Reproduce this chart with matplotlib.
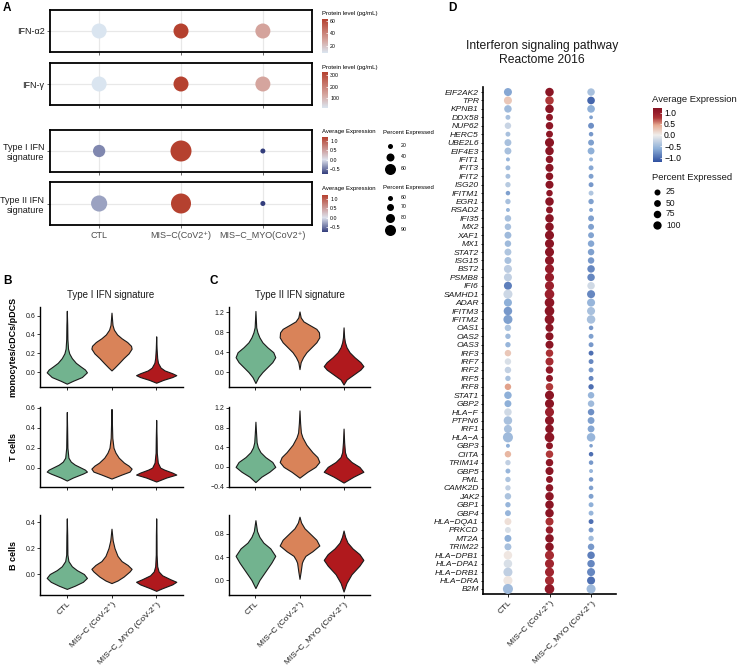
import numpy as np
import matplotlib.pyplot as plt
from matplotlib.colors import LinearSegmentedColormap, Normalize
from matplotlib.cm import ScalarMappable

plt.rcParams['font.family'] = ['Liberation Sans', 'DejaVu Sans']

W, H = 740, 669
fig = plt.figure(figsize=(W / 100, H / 100), dpi=100)


def add_ax(x0, y0, x1, y1):
    # axes from pixel box (top-left origin)
    return fig.add_axes([x0 / W, 1 - y1 / H, (x1 - x0) / W, (y1 - y0) / H])


def ftext(x, y, s, **kw):
    fig.text(x / W, 1 - y / H, s, **kw)


def pt2(d_px):
    # marker diameter in pixels -> scatter size in points^2
    return (np.asarray(d_px, float) * 0.72) ** 2


# ---------------- data ----------------
groups_a = ['CTL', 'MIS\u2212C(CoV2\u207a)', 'MIS\u2212C_MYO(CoV2\u207a)']
ifna2_level = [9, 63, 30]
ifng_level = [10, 330, 130]
type1_avg = [-0.42, 1.2, -0.77]
type1_pct = [40, 70, 15]
type2_avg = [-0.3, 1.2, -0.77]
type2_pct = [85, 93, 62]

violin_groups = ['CTL', 'MIS\u2212C (CoV-2\u207a)', 'MIS\u2212C_MYO (CoV-2\u207a)']

# violin outlines: y values and relative density per group
b_mono_y = [[-0.12, -0.09, -0.05, 0.0, 0.03, 0.06, 0.1, 0.15, 0.2, 0.25, 0.35, 0.5, 0.65],
            [0.02, 0.05, 0.1, 0.15, 0.2, 0.25, 0.28, 0.32, 0.36, 0.4, 0.45, 0.5, 0.55, 0.63],
            [-0.11, -0.08, -0.05, -0.03, -0.01, 0.02, 0.05, 0.1, 0.15, 0.25, 0.38]]
b_mono_w = [[0, 0.3, 0.75, 1.0, 0.9, 0.7, 0.45, 0.25, 0.12, 0.06, 0.03, 0.02, 0],
            [0, 0.15, 0.38, 0.6, 0.85, 1.0, 0.97, 0.78, 0.5, 0.28, 0.12, 0.05, 0.03, 0],
            [0, 0.35, 0.8, 1.0, 0.8, 0.42, 0.22, 0.09, 0.05, 0.02, 0]]
b_t_y = [[-0.13, -0.1, -0.06, -0.04, -0.02, 0.0, 0.03, 0.06, 0.1, 0.2, 0.4, 0.56],
         [-0.11, -0.07, -0.04, -0.01, 0.02, 0.05, 0.1, 0.15, 0.2, 0.3, 0.45, 0.59],
         [-0.14, -0.1, -0.07, -0.05, -0.02, 0.0, 0.05, 0.15, 0.3, 0.48]]
b_t_w = [[0, 0.3, 0.8, 1.0, 0.9, 0.7, 0.4, 0.2, 0.08, 0.03, 0.015, 0],
         [0, 0.5, 0.9, 1.0, 0.85, 0.62, 0.36, 0.2, 0.1, 0.04, 0.02, 0],
         [0, 0.5, 1.0, 0.8, 0.4, 0.2, 0.08, 0.03, 0.02, 0]]
b_b_y = [[-0.115, -0.09, -0.06, -0.03, 0.0, 0.03, 0.06, 0.1, 0.15, 0.3, 0.43],
         [-0.07, -0.05, -0.02, 0.02, 0.04, 0.07, 0.1, 0.14, 0.2, 0.26, 0.35],
         [-0.13, -0.11, -0.08, -0.06, -0.04, -0.01, 0.02, 0.06, 0.15, 0.3, 0.43]]
b_b_w = [[0, 0.4, 0.8, 1.0, 0.85, 0.5, 0.25, 0.08, 0.03, 0.02, 0],
         [0, 0.3, 0.6, 0.9, 1.0, 0.8, 0.5, 0.3, 0.15, 0.06, 0],
         [0, 0.3, 0.8, 1.0, 0.7, 0.3, 0.12, 0.05, 0.02, 0.015, 0]]
c_mono_y = [[-0.22, -0.1, 0.0, 0.1, 0.2, 0.3, 0.4, 0.5, 0.6, 0.7, 0.8, 0.9, 1.23],
            [0.06, 0.2, 0.3, 0.4, 0.5, 0.6, 0.7, 0.8, 0.87, 0.95, 1.02, 1.1, 1.22],
            [-0.25, -0.15, -0.05, 0.05, 0.12, 0.2, 0.3, 0.4, 0.5, 0.6, 0.7, 0.9]]
c_mono_w = [[0, 0.15, 0.35, 0.6, 0.85, 1.0, 0.9, 0.6, 0.35, 0.2, 0.1, 0.04, 0],
            [0, 0.06, 0.18, 0.35, 0.6, 0.85, 1.0, 0.98, 0.85, 0.5, 0.2, 0.06, 0],
            [0, 0.15, 0.5, 0.85, 1.0, 0.85, 0.55, 0.3, 0.15, 0.07, 0.03, 0]]
c_t_y = [[-0.31, -0.2, -0.1, 0.0, 0.1, 0.2, 0.3, 0.4, 0.5, 0.7, 0.92],
         [-0.22, -0.1, 0.0, 0.1, 0.2, 0.3, 0.45, 0.6, 0.7, 0.9, 1.15],
         [-0.32, -0.2, -0.1, 0.0, 0.1, 0.2, 0.3, 0.5, 0.78]]
c_t_w = [[0, 0.3, 0.7, 1.0, 0.85, 0.5, 0.25, 0.12, 0.06, 0.03, 0],
         [0, 0.4, 0.8, 1.0, 0.9, 0.65, 0.35, 0.15, 0.07, 0.03, 0],
         [0, 0.5, 1.0, 0.8, 0.4, 0.15, 0.07, 0.03, 0]]
c_b_y = [[-0.14, 0.0, 0.15, 0.3, 0.42, 0.55, 0.65, 0.75, 0.85, 1.04],
         [0.02, 0.15, 0.3, 0.35, 0.42, 0.5, 0.6, 0.7, 0.8, 0.9, 1.0, 1.1],
         [-0.2, -0.05, 0.1, 0.25, 0.35, 0.45, 0.55, 0.65, 0.75, 0.86]]
c_b_w = [[0, 0.2, 0.5, 0.8, 1.0, 0.75, 0.4, 0.2, 0.08, 0],
         [0, 0.06, 0.12, 0.18, 0.3, 0.65, 1.0, 0.85, 0.55, 0.25, 0.08, 0],
         [0, 0.15, 0.4, 0.8, 1.0, 0.8, 0.45, 0.2, 0.08, 0]]

genes = ['EIF2AK2', 'TPR', 'KPNB1', 'DDX58', 'NUP62', 'HERC5', 'UBE2L6', 'EIF4E3',
         'IFIT1', 'IFIT3', 'IFIT2', 'ISG20', 'IFITM1', 'EGR1', 'RSAD2', 'IFI35', 'MX2',
         'XAF1', 'MX1', 'STAT2', 'ISG15', 'BST2', 'PSMB8', 'IFI6', 'SAMHD1', 'ADAR',
         'IFITM3', 'IFITM2', 'OAS1', 'OAS2', 'OAS3', 'IRF3', 'IRF7', 'IRF2', 'IRF5',
         'IRF8', 'STAT1', 'GBP2', 'HLA\u2212F', 'PTPN6', 'IRF1', 'HLA\u2212A', 'GBP3',
         'CIITA', 'TRIM14', 'GBP5', 'PML', 'CAMK2D', 'JAK2', 'GBP1', 'GBP4',
         'HLA\u2212DQA1', 'PRKCD', 'MT2A', 'TRIM22', 'HLA\u2212DPB1', 'HLA\u2212DPA1',
         'HLA\u2212DRB1', 'HLA\u2212DRA', 'B2M']
ctl_avg = [-0.65, 0.25, -0.5, -0.45, -0.25, -0.45, -0.45, -0.45, -0.55, -0.5,
           -0.45, -0.35, -0.7, -0.45, -0.55, -0.45, -0.45, -0.5, -0.5, -0.4,
           -0.45, -0.32, -0.3, -0.9, -0.22, -0.6, -0.75, -0.7, -0.4, -0.5,
           -0.55, 0.25, -0.15, -0.28, -0.45, 0.45, -0.6, -0.6, -0.2, -0.45,
           -0.45, -0.5, -0.6, 0.35, -0.3, -0.55, -0.42, -0.3, -0.42, -0.55,
           -0.55, 0.1, -0.15, -0.6, -0.45, 0.05, -0.15, -0.3, 0.05, -0.5]
ctl_pct = [67, 67, 60, 27, 47, 27, 53, 53, 15, 27,
           27, 33, 22, 33, 15, 47, 47, 53, 47, 53,
           53, 67, 67, 67, 80, 67, 73, 80, 47, 33,
           33, 47, 47, 47, 33, 47, 60, 53, 60, 73,
           67, 93, 15, 47, 33, 27, 33, 33, 47, 33,
           40, 53, 40, 53, 53, 73, 73, 80, 80, 93]
misc_avg = [1.15, 0.75, 1.15, 1.1, 1.1, 1.1, 1.15, 1.15, 1.1, 1.15,
            1.15, 1.15, 1.1, 1.15, 1.1, 1.15, 1.15, 1.15, 1.15, 1.15,
            1.1, 1.0, 1.0, 0.95, 0.95, 1.1, 1.15, 1.1, 1.15, 1.15,
            1.15, 0.8, 0.85, 1.05, 1.1, 0.75, 1.15, 1.15, 0.95, 1.1,
            1.15, 1.1, 1.1, 0.75, 1.1, 1.15, 1.1, 1.1, 1.1, 1.15,
            1.15, 0.8, 1.0, 1.15, 1.15, 0.85, 0.9, 0.9, 0.85, 1.05]
misc_pct = [73, 73, 73, 53, 60, 53, 80, 73, 60, 67,
            60, 67, 47, 73, 53, 73, 73, 80, 80, 80,
            80, 80, 80, 80, 87, 87, 87, 87, 67, 67,
            67, 60, 67, 60, 53, 60, 80, 80, 80, 80,
            73, 87, 53, 60, 60, 67, 53, 60, 73, 73,
            73, 67, 60, 73, 73, 80, 80, 80, 80, 87]
myo_avg = [-0.45, -1.05, -0.6, -0.7, -0.8, -0.75, -0.7, -0.6, -0.55, -0.65,
           -0.7, -0.75, -0.4, -0.7, -0.65, -0.7, -0.7, -0.68, -0.65, -0.7,
           -0.75, -0.85, -0.85, -0.2, -0.85, -0.55, -0.45, -0.45, -0.75, -0.7,
           -0.75, -1.0, -0.85, -0.75, -0.85, -1.0, -0.55, -0.5, -0.8, -0.7,
           -0.65, -0.55, -0.7, -1.0, -0.75, -0.55, -0.75, -0.7, -0.7, -0.6,
           -0.55, -1.0, -0.75, -0.5, -0.75, -0.9, -0.85, -0.85, -1.0, -0.5]
myo_pct = [60, 62, 62, 12, 40, 22, 40, 52, 15, 27,
           27, 27, 27, 33, 15, 40, 40, 40, 47, 47,
           47, 60, 60, 60, 67, 67, 67, 73, 22, 27,
           27, 27, 27, 27, 27, 33, 47, 47, 47, 52,
           52, 73, 10, 22, 22, 15, 22, 22, 27, 27,
           27, 27, 27, 33, 47, 60, 60, 67, 67, 80]

# ---------------- colour scales ----------------
cmap_prot = LinearSegmentedColormap.from_list(
    'prot', [(0, '#dae5f0'), (0.35, '#d6a9a3'), (1, '#b5412f')])
cmap_avg = LinearSegmentedColormap.from_list(
    'avg', [(0, '#333d7c'), (0.39, '#dde1ec'), (1, '#b5412f')])
cmap_d = LinearSegmentedColormap.from_list(
    'd', [(0, '#2e4f9f'), (0.25, '#8fb0d8'), (0.5, '#f0eeec'),
          (0.68, '#e6ab92'), (0.82, '#ad3436'), (0.92, '#951b2a'), (1, '#861322')])
violin_colors = ['#72b38f', '#d98359', '#b0191d']

# ---------------- panel A ----------------
def dot_row(y0, y1, label, vals, diam, cmap, norm, show_x):
    ax = add_ax(50, y0, 312, y1)
    x = np.arange(1, 4)
    ax.scatter(x, np.zeros(3), s=pt2(diam), c=vals, cmap=cmap, norm=norm,
               linewidths=0, zorder=3)
    ax.set_xlim(0.4, 3.6)
    ax.set_ylim(-0.6, 0.6)
    ax.set_yticks([0])
    ax.set_yticklabels([label], fontsize=6.5, color='#1a1a1a')
    ax.set_xticks(x)
    if show_x:
        ax.set_xticklabels(groups_a, fontsize=6.5, color='#4d4d4d')
    else:
        ax.set_xticklabels([])
    ax.grid(color='#e8e8e8', lw=0.9)
    ax.set_axisbelow(True)
    for sp in ax.spines.values():
        sp.set_linewidth(1.3)
    ax.tick_params(length=2, width=0.6, color='#555555', pad=2)
    return ax


def colorbar_key(x0, y0, x1, y1, cmap, norm, ticks, labels, fs):
    cax = add_ax(x0, y0, x1, y1)
    cb = fig.colorbar(ScalarMappable(norm=norm, cmap=cmap), cax=cax, ticks=ticks)
    cb.outline.set_visible(False)
    cb.ax.set_yticklabels(labels)
    cax.tick_params(labelsize=fs, length=(x1 - x0) * 0.2, direction='in',
                    color='white', width=0.5, pad=1.5)
    return cb


def size_scale(p, p0, p1, d0, d1):
    return d0 + (np.asarray(p, float) - p0) * (d1 - d0) / (p1 - p0)


norm_a1 = Normalize(9, 63)
norm_a2 = Normalize(10, 330)
norm_avg = Normalize(-0.77, 1.2)
dot_row(10, 52, 'IFN-\u03b12', ifna2_level, [15] * 3, cmap_prot, norm_a1, False)
dot_row(63, 105, 'IFN-\u03b3', ifng_level, [15] * 3, cmap_prot, norm_a2, False)
dot_row(130, 172, 'Type I IFN\nsignature', type1_avg,
        size_scale(type1_pct, 15, 70, 5, 21), cmap_avg, norm_avg, False)
dot_row(182, 225, 'Type II IFN\nsignature', type2_avg,
        size_scale(type2_pct, 62, 93, 5, 20), cmap_avg, norm_avg, True)

m = '\u2212'
ftext(322, 13, 'Protein level (pg/mL)', fontsize=4.3, va='center')
colorbar_key(322, 19, 328, 53, cmap_prot, norm_a1, [20, 40, 60], ['20', '40', '60'], 3.8)
ftext(322, 67, 'Protein level (pg/mL)', fontsize=4.3, va='center')
colorbar_key(322, 72, 328, 108, cmap_prot, norm_a2, [100, 200, 300], ['100', '200', '300'], 3.8)
for ty in (131, 189):
    ftext(322, ty, 'Average Expression', fontsize=4.3, va='center')
    colorbar_key(322, ty + 6, 328, ty + 43, cmap_avg, norm_avg, [-0.5, 0, 0.5, 1.0],
                 [m + '0.5', '0.0', '0.5', '1.0'], 3.8)

# size keys for panel A
key_ax = add_ax(380, 125, 440, 240)
key_ax.set_xlim(380, 440)
key_ax.set_ylim(240, 125)
key_ax.axis('off')
key_ax.text(383, 133, 'Percent Expressed', fontsize=4.3, va='center')
for yy, d, lab in zip([146, 157, 169], [5, 8, 11], ['20', '40', '60']):
    key_ax.scatter([390], [yy], s=pt2(d), c='black', lw=0)
    key_ax.text(401, yy, lab, fontsize=3.8, va='center')
key_ax.text(383, 188, 'Percent Expressed', fontsize=4.3, va='center')
for yy, d, lab in zip([198, 207, 218, 230], [5, 7, 9, 11], ['60', '70', '80', '90']):
    key_ax.scatter([390], [yy], s=pt2(d), c='black', lw=0)
    key_ax.text(401, yy, lab, fontsize=3.8, va='center')

# ---------------- panels B and C ----------------
def violin_panel(box, ys, ws, ylim, yticks, show_x):
    ax = add_ax(*box)
    stats = []
    for yc, wv in zip(ys, ws):
        yc = np.asarray(yc, float)
        wv = np.asarray(wv, float)
        peak = yc[np.argmax(wv)]
        stats.append(dict(coords=yc, vals=wv, mean=peak, median=peak,
                          min=yc[0], max=yc[-1]))
    parts = ax.violin(stats, positions=[1, 2, 3], widths=0.9, showmeans=False,
                      showextrema=False, showmedians=False)
    for body, col in zip(parts['bodies'], violin_colors):
        body.set_facecolor(col)
        body.set_edgecolor('#1a1a1a')
        body.set_linewidth(0.8)
        body.set_alpha(1)
    ax.set_xlim(0.4, 3.6)
    ax.set_ylim(*ylim)
    ax.set_yticks(yticks)
    ax.set_yticklabels([f'{t:.1f}'.replace('-', m) for t in yticks])
    ax.set_xticks([1, 2, 3])
    if show_x:
        ax.set_xticklabels(violin_groups, rotation=45, ha='right',
                           rotation_mode='anchor', fontsize=6, color='#1a1a1a')
    else:
        ax.set_xticklabels([])
    for s in ('top', 'right'):
        ax.spines[s].set_visible(False)
    for s in ('left', 'bottom'):
        ax.spines[s].set_linewidth(1.0)
    ax.tick_params(axis='y', labelsize=5, colors='#1a1a1a', length=2, width=0.6, pad=1.5)
    ax.tick_params(axis='x', length=2, width=0.6, pad=2)
    return ax


violin_panel((40, 307, 183, 387), b_mono_y, b_mono_w, (-0.155, 0.69), [0.0, 0.2, 0.4, 0.6], False)
violin_panel((40, 407, 183, 487), b_t_y, b_t_w, (-0.195, 0.61), [0.0, 0.2, 0.4, 0.6], False)
violin_panel((40, 515, 183, 595), b_b_y, b_b_w, (-0.162, 0.456), [0.0, 0.2, 0.4], True)
violin_panel((229, 307, 370, 387), c_mono_y, c_mono_w, (-0.3, 1.31), [0.0, 0.4, 0.8, 1.2], False)
violin_panel((229, 407, 370, 487), c_t_y, c_t_w, (-0.41, 1.22), [-0.4, 0.0, 0.4, 0.8, 1.2], False)
violin_panel((229, 515, 370, 595), c_b_y, c_b_w, (-0.26, 1.13), [0.0, 0.4, 0.8], True)

ftext(111, 295, 'Type I IFN signature', fontsize=7, ha='center', va='center', color='#1a1a1a')
ftext(300, 295, 'Type II IFN signature', fontsize=7, ha='center', va='center', color='#1a1a1a')
ftext(13, 347, 'monocytes/cDCs/pDCS', fontsize=6.5, fontweight='bold', rotation=90,
      ha='center', va='center')
ftext(14, 447, 'T cells', fontsize=6.5, fontweight='bold', rotation=90, ha='center', va='center')
ftext(14, 555, 'B cells', fontsize=6.5, fontweight='bold', rotation=90, ha='center', va='center')

# ---------------- panel D ----------------
axd = add_ax(483, 87, 616, 594)
norm_d = Normalize(-1.2, 1.2)
ypos = np.arange(len(genes))[::-1] + 1
for i, (vals, pcts) in enumerate([(ctl_avg, ctl_pct), (misc_avg, misc_pct), (myo_avg, myo_pct)]):
    axd.scatter(np.full(len(genes), i + 1), ypos, s=pt2(2.8 + 0.078 * np.asarray(pcts)),
                c=vals, cmap=cmap_d, norm=norm_d, linewidths=0, zorder=3)
axd.set_xlim(0.4, 3.6)
axd.set_ylim(0.4, len(genes) + 0.6)
axd.set_yticks(ypos)
axd.set_yticklabels(genes, fontsize=6.1, style='italic', color='#1a1a1a')
axd.set_xticks([1, 2, 3])
axd.set_xticklabels(violin_groups, rotation=45, ha='right', rotation_mode='anchor',
                    fontsize=6, color='#1a1a1a')
for s in ('top', 'right'):
    axd.spines[s].set_visible(False)
for s in ('left', 'bottom'):
    axd.spines[s].set_linewidth(1.2)
axd.tick_params(axis='y', length=1.5, width=0.6, pad=1.5)
axd.tick_params(axis='x', length=2, width=0.6, pad=2)

ftext(542, 53, 'Interferon signaling pathway\nReactome 2016', fontsize=8.7,
      ha='center', va='center', linespacing=1.15, color='#1a1a1a')
ftext(652, 99, 'Average Expression', fontsize=6.8, va='center', color='#1a1a1a')
colorbar_key(653, 108, 662, 162, cmap_d, norm_d, [-1.0, -0.5, 0.0, 0.5, 1.0],
             [m + '1.0', m + '0.5', '0.0', '0.5', '1.0'], 6.2)
ftext(652, 178, 'Percent Expressed', fontsize=6.8, va='center', color='#1a1a1a')
keyd = add_ax(650, 185, 700, 232)
keyd.set_xlim(650, 700)
keyd.set_ylim(232, 185)
keyd.axis('off')
for yy, d, lab in zip([192, 203, 214, 225], [6.0, 6.8, 7.5, 8.3], ['25', '50', '75', '100']):
    keyd.scatter([657], [yy], s=pt2(d), c='black', lw=0)
    keyd.text(666, yy, lab, fontsize=6.2, va='center', color='#1a1a1a')

# panel letters
for x, y, s in [(3, 8, 'A'), (3, 281, 'B'), (210, 281, 'C'), (448, 8, 'D')]:
    ftext(x, y, s, fontsize=8.5, fontweight='bold', va='center')

fig.savefig('out.png', dpi=100)
